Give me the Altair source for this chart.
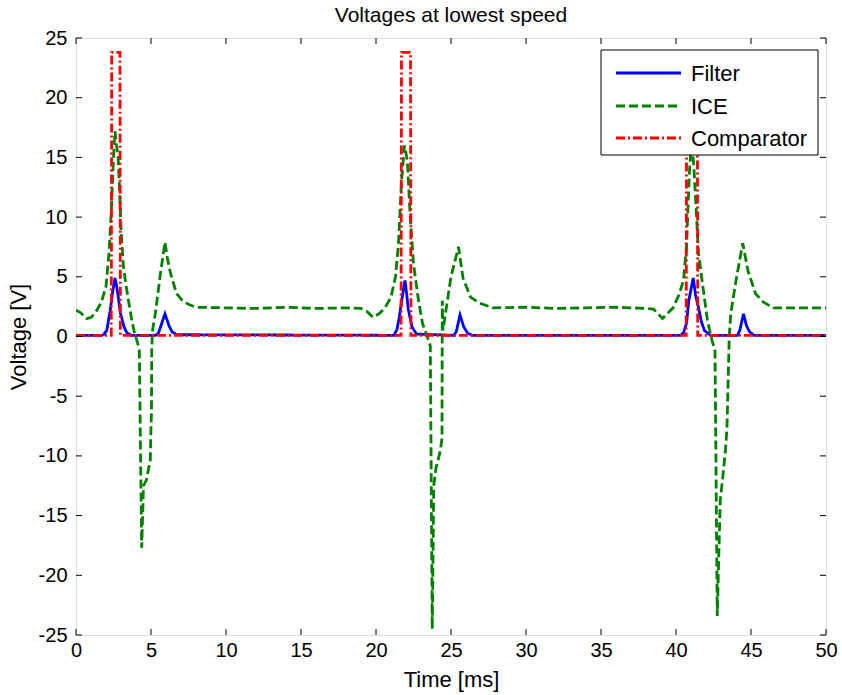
import altair as alt
import pandas as pd

# ---- data ----
filter_t = [0.0, 1.8, 2.05, 2.27, 2.45, 2.6, 2.7, 2.82, 2.95, 3.04, 3.2, 3.4, 3.7,
            5.3, 5.5, 5.93, 6.2, 6.4, 6.7,
            21.2, 21.4, 21.55, 21.7, 21.93, 22.05, 22.15, 22.4, 22.7,
            25.2, 25.35, 25.6, 25.85, 26.1, 26.4,
            40.3, 40.5, 40.7, 40.85, 41.15, 41.3, 41.5, 41.7, 41.9, 42.3,
            44.1, 44.25, 44.5, 44.7, 44.9, 45.2, 50.0]
filter_v = [0.1, 0.1, 0.5, 2.1, 3.8, 4.9, 4.3, 3.3, 2.0, 1.6, 0.8, 0.3, 0.1,
            0.1, 0.3, 1.9, 0.9, 0.4, 0.15,
            0.1, 0.6, 1.6, 2.9, 4.7, 3.5, 2.3, 0.8, 0.2,
            0.1, 0.4, 1.8, 0.8, 0.3, 0.1,
            0.1, 0.3, 1.1, 3.0, 4.9, 3.5, 2.4, 1.2, 0.5, 0.1,
            0.1, 0.5, 1.9, 0.9, 0.4, 0.1, 0.1]

ice_t = [0.0, 0.3, 0.7, 1.0, 1.3, 1.7, 2.0, 2.2, 2.35, 2.5, 2.6, 2.7, 2.8, 2.9, 3.0,
         3.15, 3.3, 3.5, 3.7, 3.9, 4.1, 4.22, 4.38, 4.5, 4.7, 4.85, 4.95, 5.0, 5.03,
         5.05, 5.1, 5.3, 5.6, 5.93, 6.1, 6.3, 6.7, 7.1, 7.5, 8.0, 10.0, 12.0, 14.0,
         16.0, 18.0, 19.0, 19.4, 19.8, 20.2, 20.6, 21.0, 21.3, 21.5, 21.7, 21.9, 22.0,
         22.1, 22.27, 22.5, 22.8, 23.1, 23.5, 23.62, 23.75, 23.85, 24.0, 24.15, 24.3,
         24.4, 24.42, 24.46, 24.7, 25.0, 25.5, 25.8, 26.3, 26.9, 27.8, 30.0, 32.0,
         34.0, 36.0, 38.0, 38.5, 39.1, 39.8, 40.2, 40.5, 40.7, 40.9, 41.05, 41.2,
         41.5, 41.8, 42.1, 42.4, 42.6, 42.75, 42.95, 43.1, 43.3, 43.4, 43.55, 43.65,
         44.0, 44.45, 44.8, 45.3, 45.8, 46.5, 48.0, 50.0]
ice_v = [2.2, 2.0, 1.5, 1.6, 2.0, 2.9, 4.2, 7.0, 10.5, 15.0, 17.2, 16.0, 15.2, 12.5, 9.0,
         6.0, 4.6, 3.0, 1.5, 0.3, -0.5, -1.2, -17.7, -12.5, -12.0, -11.0, -10.4, -7.5, -6.5,
         -1.0, 0.5, 2.0, 5.0, 7.9, 6.5, 5.3, 3.6, 3.0, 2.7, 2.45, 2.4, 2.35, 2.45,
         2.35, 2.4, 2.35, 2.1, 1.6, 1.9, 2.4, 3.3, 5.0, 7.8, 13.0, 16.0, 15.4,
         14.5, 10.3, 6.1, 3.3, 1.1, -0.3, -0.8, -24.5, -12.5, -11.0, -10.3, -9.5,
         -8.5, 3.0, 0.5, 2.5, 5.0, 7.5, 4.9, 3.3, 2.8, 2.4, 2.45, 2.35,
         2.4, 2.45, 2.35, 2.3, 1.5, 2.4, 3.5, 4.7, 7.5, 13.9, 16.5, 14.0,
         7.0, 4.1, 1.3, -0.3, -1.2, -23.4, -13.7, -12.0, -9.5, -7.6, 0.0, 1.9,
         4.7, 7.8, 5.5, 3.6, 2.9, 2.4, 2.4, 2.4]

comp_t = [0.0, 2.35, 2.38, 2.93, 2.96, 21.67, 21.7, 22.3, 22.33, 40.68, 40.71, 41.42, 41.45, 50.0]
comp_v = [0.1, 0.1, 23.8, 23.8, 0.1, 0.1, 23.8, 23.8, 0.1, 0.1, 23.8, 23.8, 0.1, 0.1]

series = ["Filter", "ICE", "Comparator"]
colors = ["#0000ff", "#008000", "#ff0000"]
dashes = [[1, 0], [9, 4], [9, 3, 2, 3]]

x_ticks = [0, 5, 10, 15, 20, 25, 30, 35, 40, 45, 50]
y_ticks = [-25, -20, -15, -10, -5, 0, 5, 10, 15, 20, 25]

rows = []
for name, ts, vs in [("Filter", filter_t, filter_v), ("ICE", ice_t, ice_v), ("Comparator", comp_t, comp_v)]:
    rows += [{"series": name, "t": t, "v": v} for t, v in zip(ts, vs)]
df = pd.DataFrame(rows)

W, H = 750, 597
FONT = "Liberation Sans"
LW = 2.8

x_scale = alt.Scale(domain=[0, 50], nice=False, zero=False)
y_scale = alt.Scale(domain=[-25, 25], nice=False, zero=False)
color_scale = alt.Scale(domain=series, range=colors)
dash_scale = alt.Scale(domain=series, range=dashes)

x_axis = alt.Axis(values=x_ticks, title="Time [ms]", ticks=False, tickSize=0, domain=False, grid=False,
                  labelFontSize=20, labelFont=FONT, labelColor="black", labelPadding=5,
                  titleFontSize=22, titleFont=FONT, titleFontWeight="normal", titleColor="black",
                  titlePadding=9, labelFlush=False)
y_axis = alt.Axis(values=y_ticks, title="Voltage [V]", ticks=False, tickSize=0, domain=False, grid=False,
                  labelFontSize=20, labelFont=FONT, labelColor="black", labelPadding=9,
                  labelExpr="'' + datum.value",
                  titleFontSize=22, titleFont=FONT, titleFontWeight="normal", titleColor="black",
                  titlePadding=8, labelFlush=False)


def line_layer(name):
    return alt.Chart(df).transform_filter(alt.datum.series == name).mark_line(
        strokeWidth=LW, clip=True
    ).encode(
        x=alt.X("t:Q", scale=x_scale, axis=x_axis),
        y=alt.Y("v:Q", scale=y_scale, axis=y_axis),
        color=alt.Color("series:N", scale=color_scale, legend=None),
        strokeDash=alt.StrokeDash("series:N", scale=dash_scale, legend=None),
    )


xt = pd.DataFrame({"t": x_ticks})
yt = pd.DataFrame({"v": y_ticks})

tick_bottom = alt.Chart(xt).mark_rule(color="black", strokeWidth=1).encode(
    x=alt.X("t:Q", scale=x_scale, axis=x_axis), y=alt.value(H), y2=alt.value(H - 6))
tick_top = alt.Chart(xt).mark_rule(color="black", strokeWidth=1).encode(
    x=alt.X("t:Q", scale=x_scale, axis=x_axis), y=alt.value(0), y2=alt.value(6))
tick_left = alt.Chart(yt).mark_rule(color="black", strokeWidth=1).encode(
    y=alt.Y("v:Q", scale=y_scale, axis=y_axis), x=alt.value(0), x2=alt.value(6))
tick_right = alt.Chart(yt).mark_rule(color="black", strokeWidth=1).encode(
    y=alt.Y("v:Q", scale=y_scale, axis=y_axis), x=alt.value(W), x2=alt.value(W - 6))

# ---- legend box (drawn on top of the lines) ----
LX0, LX1, LY0, LY1 = 525, 742, 12, 117
legend_box = alt.Chart(pd.DataFrame({"k": [0]})).mark_rect(
    fill="white", stroke="black", strokeWidth=1
).encode(x=alt.value(LX0), x2=alt.value(LX1), y=alt.value(LY0), y2=alt.value(LY1))

legend_layers = []
row_y = [35, 68, 100]
for name, ry in zip(series, row_y):
    d = pd.DataFrame({"series": [name]})
    legend_layers.append(
        alt.Chart(d).mark_rule(strokeWidth=LW).encode(
            x=alt.value(540), x2=alt.value(605), y=alt.value(ry),
            color=alt.Color("series:N", scale=color_scale, legend=None),
            strokeDash=alt.StrokeDash("series:N", scale=dash_scale, legend=None),
        )
    )
    legend_layers.append(
        alt.Chart(d).mark_text(align="left", baseline="middle", fontSize=22, font=FONT, color="black").encode(
            x=alt.value(615), y=alt.value(ry + 1), text="series:N"
        )
    )

chart = alt.layer(
    line_layer("Filter"), line_layer("ICE"), line_layer("Comparator"),
    tick_bottom, tick_top, tick_left, tick_right,
    legend_box, *legend_layers,
).properties(
    width=W, height=H,
    title=alt.TitleParams("Voltages at lowest speed", fontSize=21, font=FONT, fontWeight="normal",
                          color="black", anchor="middle", offset=2),
    autosize=alt.AutoSizeParams(type="none"),
    padding={"left": 76, "top": 38, "right": 16, "bottom": 60},
).configure_view(stroke="black", strokeWidth=1.2).configure(background="white")

chart.save("out.html", embed_options={"renderer": "svg", "actions": False})
